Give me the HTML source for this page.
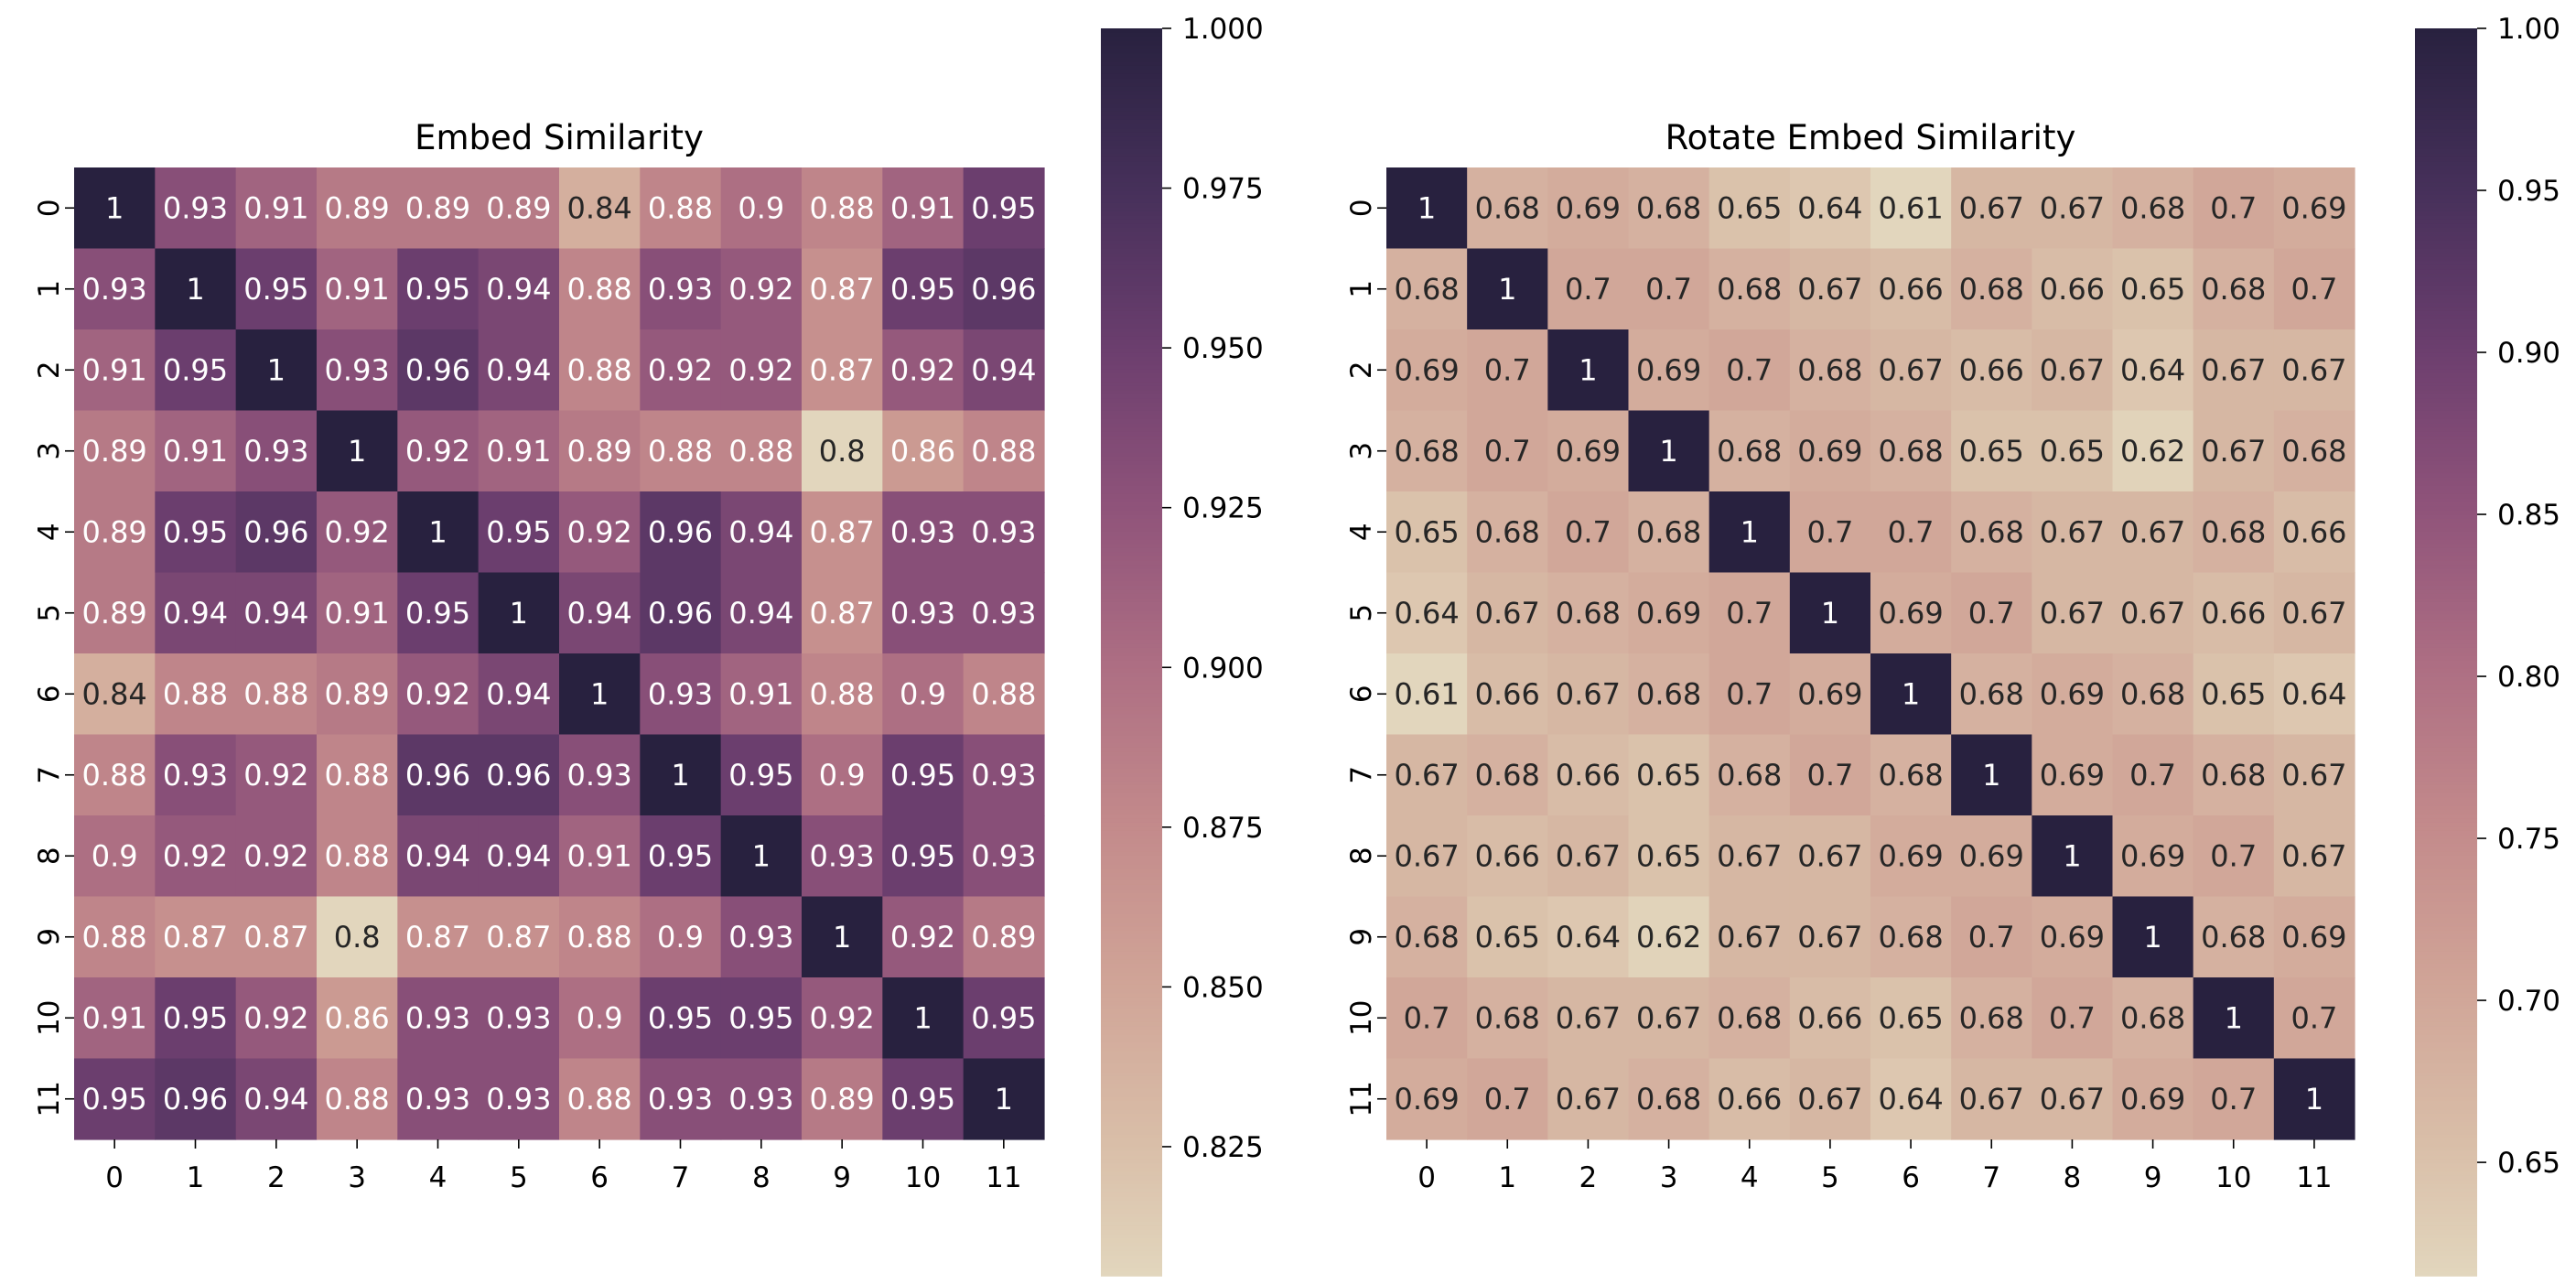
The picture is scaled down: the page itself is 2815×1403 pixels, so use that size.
<!DOCTYPE html>
<html><head><meta charset="utf-8"><style>
html,body{margin:0;padding:0;background:#fff;}
svg{display:block;font-family:"DejaVu Sans","Liberation Sans",sans-serif;}
</style></head>
<body>
<svg id="fig" width="2815" height="1403" viewBox="0 0 2815 1403" xmlns="http://www.w3.org/2000/svg"></svg>
<script>
const labels = ["0","1","2","3","4","5","6","7","8","9","10","11"];
const embedValues = [
[1,.93,.91,.89,.89,.89,.84,.88,.9,.88,.91,.95],
[.93,1,.95,.91,.95,.94,.88,.93,.92,.87,.95,.96],
[.91,.95,1,.93,.96,.94,.88,.92,.92,.87,.92,.94],
[.89,.91,.93,1,.92,.91,.89,.88,.88,.8,.86,.88],
[.89,.95,.96,.92,1,.95,.92,.96,.94,.87,.93,.93],
[.89,.94,.94,.91,.95,1,.94,.96,.94,.87,.93,.93],
[.84,.88,.88,.89,.92,.94,1,.93,.91,.88,.9,.88],
[.88,.93,.92,.88,.96,.96,.93,1,.95,.9,.95,.93],
[.9,.92,.92,.88,.94,.94,.91,.95,1,.93,.95,.93],
[.88,.87,.87,.8,.87,.87,.88,.9,.93,1,.92,.89],
[.91,.95,.92,.86,.93,.93,.9,.95,.95,.92,1,.95],
[.95,.96,.94,.88,.93,.93,.88,.93,.93,.89,.95,1]];
const rotateValues = [
[1,.68,.69,.68,.65,.64,.61,.67,.67,.68,.7,.69],
[.68,1,.7,.7,.68,.67,.66,.68,.66,.65,.68,.7],
[.69,.7,1,.69,.7,.68,.67,.66,.67,.64,.67,.67],
[.68,.7,.69,1,.68,.69,.68,.65,.65,.62,.67,.68],
[.65,.68,.7,.68,1,.7,.7,.68,.67,.67,.68,.66],
[.64,.67,.68,.69,.7,1,.69,.7,.67,.67,.66,.67],
[.61,.66,.67,.68,.7,.69,1,.68,.69,.68,.65,.64],
[.67,.68,.66,.65,.68,.7,.68,1,.69,.7,.68,.67],
[.67,.66,.67,.65,.67,.67,.69,.69,1,.69,.7,.67],
[.68,.65,.64,.62,.67,.67,.68,.7,.69,1,.68,.69],
[.7,.68,.67,.67,.68,.66,.65,.68,.7,.68,1,.7],
[.69,.7,.67,.68,.66,.67,.64,.67,.67,.69,.7,1]];
const embedTicks = ["0.825","0.850","0.875","0.900","0.925","0.950","0.975","1.000"];
const rotateTicks = ["0.65","0.70","0.75","0.80","0.85","0.90","0.95","1.00"];

const stops = [[0,"#e2d6bd"],[0.107,"#d9bea8"],[0.235,"#d0a497"],[0.362,"#c38a8b"],[0.49,"#ad6e83"],[0.617,"#8f537a"],[0.745,"#6b3e6e"],[0.872,"#46305a"],[1,"#28213f"]];
function hex(h){return [1,3,5].map(i=>parseInt(h.substr(i,2),16));}
function cmap(t){
  t=Math.max(0,Math.min(1,t));
  for(let i=1;i<stops.length;i++){
    if(t<=stops[i][0]){
      const a=stops[i-1],b=stops[i],f=(t-a[0])/(b[0]-a[0]);
      const ca=hex(a[1]),cb=hex(b[1]);
      return "rgb("+ca.map((c,k)=>Math.round(c+(cb[k]-c)*f)).join(",")+")";
    }
  }
  return stops[stops.length-1][1];
}
const NS="http://www.w3.org/2000/svg";
const svg=document.getElementById("fig");
function mk(tag,attrs,parent,text){
  const e=document.createElementNS(NS,tag);
  for(const k in attrs)e.setAttribute(k,attrs[k]);
  if(text!==undefined)e.textContent=text;
  (parent||svg).appendChild(e);return e;
}
function heatmap(cfg){
  const g=mk("g",{});
  
  
  const n=labels.length, cw=(cfg.x1-cfg.x0)/n, ch=(cfg.y1-cfg.y0)/n;
  const xs=i=>cfg.x0+i*cw, ys=j=>cfg.y0+j*ch;
  const norm=v=>(v-cfg.vmin)/(cfg.vmax-cfg.vmin);
  cfg.values.forEach((row,r)=>row.forEach((v,c)=>{
    const rc=mk("rect",{x:xs(c),y:ys(r),width:cw+0.6,height:ch+0.6,fill:cmap(norm(v))},g);
    
    
    const t=mk("text",{x:xs(c)+cw/2,y:ys(r)+ch/2+11,"text-anchor":"middle","font-size":"32",fill:norm(v)<0.24?"#262626":"#ffffff"},g,String(v));
    
    
  }));
  labels.forEach((l,i)=>{
    mk("line",{x1:xs(i)+cw/2,x2:xs(i)+cw/2,y1:cfg.y1,y2:cfg.y1+10,stroke:"#000","stroke-width":"1.6"},g);
    const tx=mk("text",{x:xs(i)+cw/2,y:cfg.y1+52,"text-anchor":"middle","font-size":"31",fill:"#000"},g,l);
    
    
    mk("line",{x1:cfg.x0-10,x2:cfg.x0,y1:ys(i)+ch/2,y2:ys(i)+ch/2,stroke:"#000","stroke-width":"1.6"},g);
    const cy=ys(i)+ch/2, cx=cfg.x0-28;
    const ty=mk("text",{x:cx,y:cy,"text-anchor":"middle","font-size":"31",fill:"#000",transform:`rotate(-90 ${cx} ${cy})`,dy:"11"},g,l);
    
    
  });
  const title=mk("text",{x:(cfg.x0+cfg.x1)/2,y:cfg.y0-20,"text-anchor":"middle","font-size":"37",fill:"#000"},g,cfg.title);
  
  
  // colorbar
  const cb=mk("g",{},g);
  
  
  const steps=300, h=(cfg.cb1-cfg.cb0)/steps;
  for(let s=0;s<steps;s++){
    mk("rect",{x:cfg.cbx,y:cfg.cb0+s*h,width:cfg.cbw,height:h+0.8,fill:cmap(1-(s+0.5)/steps)},cb);
  }
  const cby=v=>cfg.cb1-(v-cfg.vmin)/(cfg.vmax-cfg.vmin)*(cfg.cb1-cfg.cb0);
  cfg.ticks.forEach(tk=>{
    const y=cby(parseFloat(tk));
    mk("line",{x1:cfg.cbx+cfg.cbw,x2:cfg.cbx+cfg.cbw+10,y1:y,y2:y,stroke:"#000","stroke-width":"1.6"},cb);
    const t=mk("text",{x:cfg.cbx+cfg.cbw+22,y:y+11,"font-size":"31",fill:"#000"},cb,tk);
    
    
  });
}
heatmap({name:"embed-similarity-heatmap",title:"Embed Similarity",values:embedValues,ticks:embedTicks,
  x0:81,x1:1141,y0:183,y1:1245,vmin:0.8048,vmax:1,cbx:1203,cbw:67,cb0:31,cb1:1394});
heatmap({name:"rotate-embed-similarity-heatmap",title:"Rotate Embed Similarity",values:rotateValues,ticks:rotateTicks,
  x0:1515,x1:2573,y0:183,y1:1245,vmin:0.615,vmax:1,cbx:2639,cbw:68,cb0:31,cb1:1394});
</script>
</body></html>
